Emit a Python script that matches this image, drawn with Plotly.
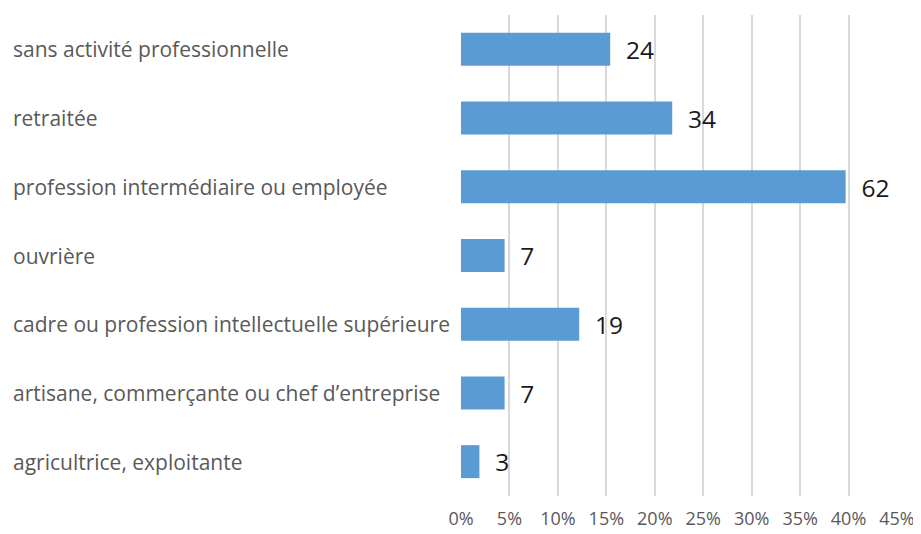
import plotly.graph_objects as go

# categories listed top to bottom as in the chart
categories = [
    "sans activité professionnelle",
    "retraitée",
    "profession intermédiaire ou employée",
    "ouvrière",
    "cadre ou profession intellectuelle supérieure",
    "artisane, commerçante ou chef d’entreprise",
    "agricultrice, exploitante",
]
counts = [24, 34, 62, 7, 19, 7, 3]
shares = [0.154, 0.218, 0.397, 0.045, 0.122, 0.045, 0.019]
tick_vals = [0, 0.05, 0.10, 0.15, 0.20, 0.25, 0.30, 0.35, 0.40, 0.45]
tick_text = ["0%", "5%", "10%", "15%", "20%", "25%", "30%", "35%", "40%", "45%"]

fig = go.Figure()
fig.add_trace(go.Bar(
    x=shares, y=categories, orientation="h",
    marker=dict(color="#5B9BD5", line=dict(width=0)),
    text=["  " + str(c) for c in counts], textposition="outside",
    textfont=dict(family="Open Sans", size=29, color="#1a1a1a"),
    cliponaxis=False,
))

# left-aligned category labels
for cat in categories:
    fig.add_annotation(x=-1.032, xref="paper", y=cat, yref="y", text=cat,
                       showarrow=False, xanchor="left",
                       font=dict(family="Open Sans", size=21, color="#595959"))

fig.update_xaxes(range=[0, 0.45], tickvals=tick_vals, ticktext=tick_text,
                 showgrid=True, gridcolor="#D9D9D9", gridwidth=2, zeroline=False,
                 showline=False, ticks="", automargin=False, ticklabelstandoff=10,
                 tickfont=dict(family="Open Sans", size=18, color="#595959"))
fig.update_yaxes(autorange="reversed", showticklabels=False, showgrid=False,
                 zeroline=False, showline=False, automargin=False)
fig.update_layout(
    width=921, height=534, bargap=0.52, showlegend=False,
    plot_bgcolor="white", paper_bgcolor="white",
    margin=dict(l=453, r=32, t=7, b=46, autoexpand=False),
    uniformtext=dict(mode=False),
)
fig.write_html("out.html")
